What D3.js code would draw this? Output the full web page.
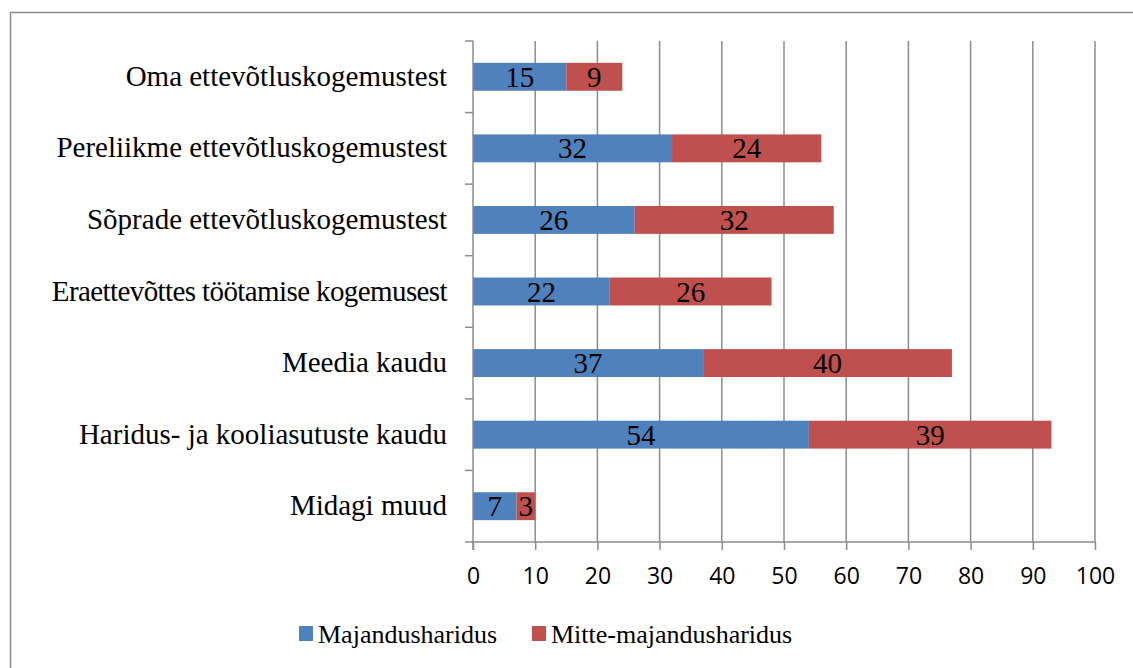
<!DOCTYPE html>
<html>
<head>
<meta charset="utf-8">
<script src="https://cdn.jsdelivr.net/npm/d3@7"></script>
<style>
  body { margin: 0; background: #fff; }
  svg { display: block; }
</style>
</head>
<body>
<div id="chart"></div>
<script>
var categories = [
  'Oma ettevõtluskogemustest',
  'Pereliikme ettevõtluskogemustest',
  'Sõprade ettevõtluskogemustest',
  'Eraettevõttes töötamise kogemusest',
  'Meedia kaudu',
  'Haridus- ja kooliasutuste kaudu',
  'Midagi muud'
]
var majandus = [15, 32, 26, 22, 37, 54, 7]
var mitteMajandus = [9, 24, 32, 26, 40, 39, 3]
var seriesNames = ['Majandusharidus', 'Mitte-majandusharidus']
var xTicks = [0, 10, 20, 30, 40, 50, 60, 70, 80, 90, 100]

var width = 1133
var height = 668
var colors = ['#4f81bd', '#c0504d']
var serif = '"Liberation Serif", "Times New Roman", serif'

var svg = d3.select('#chart')
  .append('svg')
  .attr('width', width)
  .attr('height', height)

// outer chart border (cropped on right and bottom)
svg.append('rect')
  .attr('x', 10.5)
  .attr('y', 12.5)
  .attr('width', 1140)
  .attr('height', 680)
  .attr('fill', 'none')
  .attr('stroke', '#8c8c8c')
  .attr('stroke-width', 1.5)

var xScale = d3.scaleLinear()
  .domain([0, 100])
  .range([473, 1095])

var yScale = d3.scaleBand()
  .domain(categories)
  .range([41, 542])
  .paddingInner(0.61)
  .paddingOuter(0.305)

// gridlines
svg.selectAll('line.grid')
  .data(xTicks.slice(1))
  .enter()
  .append('line')
  .attr('class', 'grid')
  .attr('x1', function(d) { return xScale(d) })
  .attr('x2', function(d) { return xScale(d) })
  .attr('y1', 41)
  .attr('y2', 542)
  .attr('stroke', '#8c8c8c')
  .attr('stroke-width', 1.5)

// stacked data
var rows = categories.map(function(c, i) {
  return { cat: c, vals: [majandus[i], mitteMajandus[i]] }
})

var segs = []
rows.forEach(function(r) {
  var start = 0
  r.vals.forEach(function(v, s) {
    segs.push({ cat: r.cat, s: s, x0: start, x1: start + v, v: v })
    start += v
  })
})

svg.selectAll('rect.bar')
  .data(segs)
  .enter()
  .append('rect')
  .attr('class', 'bar')
  .attr('x', function(d) { return xScale(d.x0) })
  .attr('y', function(d) { return yScale(d.cat) })
  .attr('width', function(d) { return xScale(d.x1) - xScale(d.x0) })
  .attr('height', yScale.bandwidth())
  .attr('fill', function(d) { return colors[d.s] })

svg.selectAll('text.val')
  .data(segs)
  .enter()
  .append('text')
  .attr('class', 'val')
  .text(function(d) { return d.v })
  .attr('x', function(d) { return (xScale(d.x0) + xScale(d.x1)) / 2 })
  .attr('y', function(d) { return yScale(d.cat) + yScale.bandwidth() / 2 + 10 })
  .attr('text-anchor', 'middle')
  .attr('font-family', serif)
  .attr('font-size', '29px')
  .attr('fill', '#000')

// x axis
var xAxis = d3.axisBottom(xScale)
  .tickValues(xTicks)
  .tickSize(8)
  .tickPadding(18)

var gx = svg.append('g')
  .attr('transform', 'translate(0,542)')
  .call(xAxis)
gx.select('.domain').attr('stroke', '#8c8c8c').attr('stroke-width', 1.5)
  .attr('d', 'M' + xScale(0) + ',0H' + xScale(100))
gx.selectAll('.tick line').attr('stroke', '#8c8c8c').attr('stroke-width', 1.5)
gx.selectAll('.tick text')
  .attr('font-family', '"Open Sans", "Liberation Sans", sans-serif')
  .attr('font-size', '23px')
  .attr('fill', '#000')

// y axis: line with ticks at band boundaries
var bounds = d3.range(categories.length + 1).map(function(i) { return 41 + i * (501 / categories.length) })
svg.append('line')
  .attr('x1', xScale(0)).attr('x2', xScale(0))
  .attr('y1', 41).attr('y2', 550)
  .attr('stroke', '#8c8c8c')
  .attr('stroke-width', 1.5)
svg.selectAll('line.ytick')
  .data(bounds)
  .enter()
  .append('line')
  .attr('class', 'ytick')
  .attr('x1', xScale(0) - 8)
  .attr('x2', xScale(0))
  .attr('y1', function(d) { return d })
  .attr('y2', function(d) { return d })
  .attr('stroke', '#8c8c8c')
  .attr('stroke-width', 1.5)

svg.selectAll('text.cat')
  .data(categories)
  .enter()
  .append('text')
  .attr('class', 'cat')
  .text(function(d) { return d })
  .attr('x', 447)
  .attr('y', function(d) { return yScale(d) + yScale.bandwidth() / 2 + 9 })
  .attr('text-anchor', 'end')
  .attr('font-family', serif)
  .attr('font-size', '29px')
  .attr('letter-spacing', function(d, i) { return i === 3 ? '-0.6px' : null })
  .attr('fill', '#000')

// legend
var legendX = [299, 532]
var legend = svg.selectAll('g.legend')
  .data(seriesNames)
  .enter()
  .append('g')
  .attr('class', 'legend')
  .attr('transform', function(d, i) { return 'translate(' + legendX[i] + ',626)' })

legend.append('rect')
  .attr('width', 14)
  .attr('height', 15)
  .attr('fill', function(d, i) { return colors[i] })

legend.append('text')
  .text(function(d) { return d })
  .attr('x', 19)
  .attr('y', 17)
  .attr('font-family', serif)
  .attr('font-size', '26px')
  .attr('fill', '#000')
</script>
</body>
</html>
